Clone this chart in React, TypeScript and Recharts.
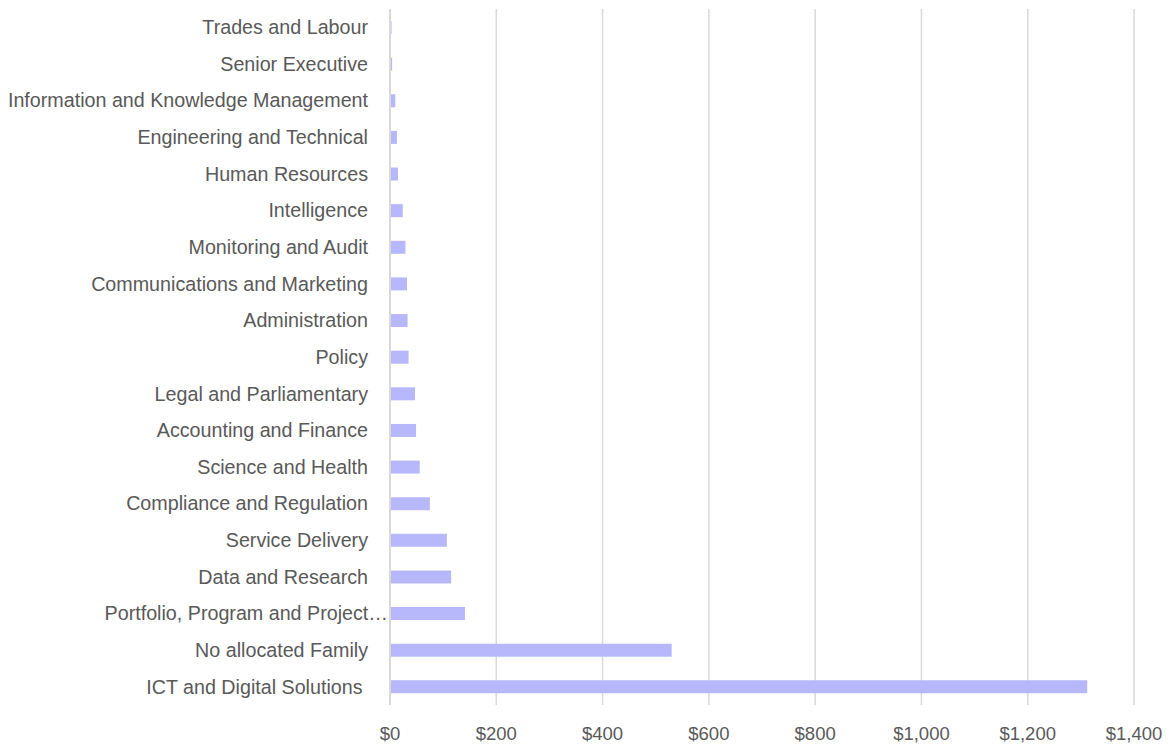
import { Bar, BarChart, CartesianGrid, XAxis, YAxis } from 'recharts';

const families = [
  'Trades and Labour',
  'Senior Executive',
  'Information and Knowledge Management',
  'Engineering and Technical',
  'Human Resources',
  'Intelligence',
  'Monitoring and Audit',
  'Communications and Marketing',
  'Administration',
  'Policy',
  'Legal and Parliamentary',
  'Accounting and Finance',
  'Science and Health',
  'Compliance and Regulation',
  'Service Delivery',
  'Data and Research',
  'Portfolio, Program and Project Management',
  'No allocated Family',
  'ICT and Digital Solutions ',
];

const spend = [3, 4, 10, 13, 15, 24, 29, 32, 33, 35, 47, 49, 56, 75, 107, 115, 141, 530, 1312];

const xTicks = [0, 200, 400, 600, 800, 1000, 1200, 1400];

const data = families.map((family, i) => ({ family, spend: spend[i] }));

const labelColor = '#595959';
const gridColor = '#d9d9d9';
const font = '"Liberation Sans", Arial, sans-serif';

// long names get cut with an ellipsis and run up to the axis line
const FamilyTick = (props: any) => {
  const { x, y, payload } = props;
  let label: string = payload.value;
  let dx = 0;
  if (label.length > 38) {
    label = label.slice(0, 30) + '…';
    dx = 20;
  }
  return (
    <text
      x={x + dx}
      y={y}
      dy="0.35em"
      textAnchor="end"
      fill={labelColor}
      fontSize={19.7}
      fontFamily={font}
      style={{ whiteSpace: 'pre' }}
    >
      {label}
    </text>
  );
};

export default function App() {
  return (
    <div style={{ position: 'absolute', left: 0, top: 0, background: '#fff' }}>
      <BarChart
        width={1171}
        height={746}
        data={data}
        layout="vertical"
        margin={{ top: 9, right: 37, bottom: 0, left: 0 }}
        barSize={13}
      >
        <CartesianGrid horizontal={false} stroke={gridColor} strokeWidth={1.5} />
        <XAxis
          type="number"
          domain={[0, 1400]}
          ticks={xTicks}
          interval={0}
          axisLine={false}
          tickLine={false}
          tickSize={0}
          tickMargin={22}
          height={41}
          tickFormatter={(v: number) => `$${v.toLocaleString('en-US')}`}
          tick={{ fill: labelColor, fontSize: 18.5, fontFamily: font }}
        />
        <YAxis
          type="category"
          dataKey="family"
          width={390}
          interval={0}
          tickLine={false}
          tickSize={0}
          tickMargin={22}
          axisLine={{ stroke: gridColor, strokeWidth: 2 }}
          tick={<FamilyTick />}
        />
        <Bar dataKey="spend" fill="#b7b7fb" isAnimationActive={false} />
      </BarChart>
    </div>
  );
}
